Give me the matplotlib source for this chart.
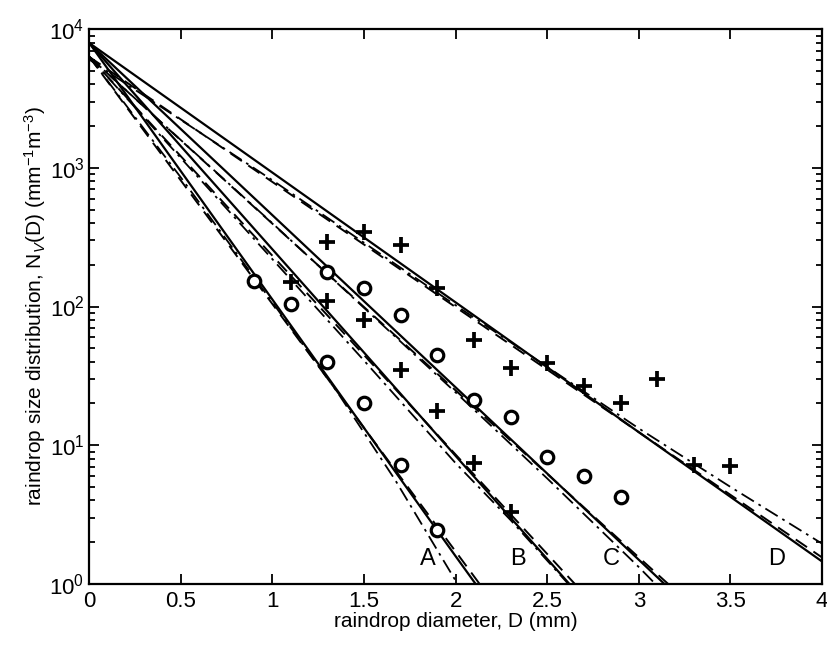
import matplotlib
matplotlib.use("Agg")
import matplotlib.pyplot as plt
from matplotlib.ticker import LogLocator, NullFormatter

plt.rcParams['font.family'] = ['Liberation Sans', 'DejaVu Sans']
plt.rcParams['mathtext.fontset'] = 'custom'
plt.rcParams['mathtext.rm'] = 'Liberation Sans'
plt.rcParams['mathtext.it'] = 'Liberation Sans:italic'

# measured drop spectra (circles and pluses)
circ_a_d = [0.9, 1.1, 1.3, 1.5, 1.7, 1.9]
circ_a_n = [154, 105, 40, 20, 7.2, 2.45]
plus_b_d = [1.1, 1.3, 1.5, 1.7, 1.9, 2.1, 2.3]
plus_b_n = [151, 110, 80, 35, 17.5, 7.5, 3.3]
circ_c_d = [1.3, 1.5, 1.7, 1.9, 2.1, 2.3, 2.5, 2.7, 2.9]
circ_c_n = [176, 137, 87, 45, 21, 16, 8.2, 6.0, 4.2]
plus_d_d = [1.3, 1.5, 1.7, 1.9, 2.1, 2.3, 2.5, 2.7, 2.9, 3.1, 3.3, 3.5]
plus_d_n = [290, 342, 276, 137, 57, 36, 39, 26.5, 20.3, 30, 7.2, 7.1]

# fitted curves: (D, N) for solid / dashed / dash-dot
a_solid_d = [0, 0.5, 1, 1.5, 2, 2.2]
a_solid_n = [7940, 944, 112, 13.3, 1.58, 0.68]
a_dash_d = [0, 0.5, 1, 1.5, 2, 2.2]
a_dash_n = [6310, 809, 104, 13.3, 1.71, 0.75]
a_dot_d = [0, 0.5, 1, 1.355, 1.67, 2.01, 2.2]
a_dot_n = [6310, 851, 107, 24, 5.6, 1.0, 0.35]

b_solid_d = [0, 0.5, 1, 1.5, 2, 2.5, 2.8]
b_solid_n = [7940, 1430, 258, 46.5, 8.36, 1.51, 0.54]
b_dash_d = [0, 0.5, 1, 1.5, 2, 2.5, 2.8]
b_dash_n = [6310, 1210, 232, 44.6, 8.55, 1.64, 0.61]
b_dot_d = [0, 0.5, 1, 1.5, 2, 2.3, 2.6, 2.8]
b_dot_n = [6310, 1175, 219, 40.7, 7.41, 2.88, 1.05, 0.52]

c_solid_d = [0, 1, 2, 3, 3.3]
c_solid_n = [7940, 455, 26.1, 1.49, 0.63]
c_dash_d = [0, 1, 2, 3, 3.3]
c_dash_n = [6310, 395, 24.8, 1.55, 0.68]
c_dot_d = [0, 1, 2, 2.5, 3, 3.3]
c_dot_n = [6310, 398, 24, 5.75, 1.32, 0.52]

d_solid_d = [0, 1, 2, 3, 4]
d_solid_n = [7940, 923, 107, 12.4, 1.45]
d_dash_d = [0, 1, 2, 3, 4]
d_dash_n = [6310, 790, 98.9, 12.4, 1.55]
d_dot_d = [0, 1, 2, 3, 3.5, 4]
d_dot_n = [6030, 813, 102, 13.2, 5.0, 1.95]

labels = ['A', 'B', 'C', 'D']
label_d = [1.85, 2.34, 2.85, 3.75]
label_n = [1.5, 1.5, 1.5, 1.5]

fig = plt.figure(figsize=(8.27, 6.48), dpi=100)
ax = fig.add_axes([0.108, 0.099, 0.886, 0.856])

curves = [
    (a_solid_d, a_solid_n, a_dash_d, a_dash_n, a_dot_d, a_dot_n),
    (b_solid_d, b_solid_n, b_dash_d, b_dash_n, b_dot_d, b_dot_n),
    (c_solid_d, c_solid_n, c_dash_d, c_dash_n, c_dot_d, c_dot_n),
    (d_solid_d, d_solid_n, d_dash_d, d_dash_n, d_dot_d, d_dot_n),
]
for sd, sn, dd, dn, td, tn in curves:
    ax.plot(sd, sn, color='black', lw=1.6, ls='-')
    ax.plot(dd, dn, color='black', lw=1.4, ls=(0, (7, 4)))
    ax.plot(td, tn, color='black', lw=1.3, ls=(0, (8, 3, 1.5, 3)))

for d, n in [(circ_a_d, circ_a_n), (circ_c_d, circ_c_n)]:
    ax.plot(d, n, ls='none', marker='o', ms=9, mfc='white', mec='black', mew=2.3)
for d, n in [(plus_b_d, plus_b_n), (plus_d_d, plus_d_n)]:
    ax.plot(d, n, ls='none', marker='+', ms=11, mec='black', mew=2.7)

for t, d, n in zip(labels, label_d, label_n):
    ax.text(d, n, t, fontsize=17, ha='center', va='center')

ax.set_yscale('log')
ax.set_xlim(0, 4)
ax.set_ylim(1, 1e4)
ax.set_xticks([0, 0.5, 1, 1.5, 2, 2.5, 3, 3.5, 4])
ax.set_xticklabels(['0', '0.5', '1', '1.5', '2', '2.5', '3', '3.5', '4'])
ax.yaxis.set_major_locator(LogLocator(base=10, numticks=10))
ax.yaxis.set_minor_locator(LogLocator(base=10, subs=range(2, 10), numticks=10))
ax.yaxis.set_minor_formatter(NullFormatter())
ax.tick_params(which='both', direction='in', top=True, right=True, labelsize=16, width=1.3)
ax.tick_params(which='major', length=7)
ax.tick_params(which='minor', length=4)
ax.tick_params(axis='x', pad=5)
for s in ax.spines.values():
    s.set_linewidth(1.6)

ax.set_xlabel('raindrop diameter, D (mm)', fontsize=15, labelpad=0)
ax.set_ylabel('raindrop size distribution, N$_V$(D) (mm$^{-1}$m$^{-3}$)', fontsize=15, labelpad=1)

fig.savefig('out.png', dpi=100)
